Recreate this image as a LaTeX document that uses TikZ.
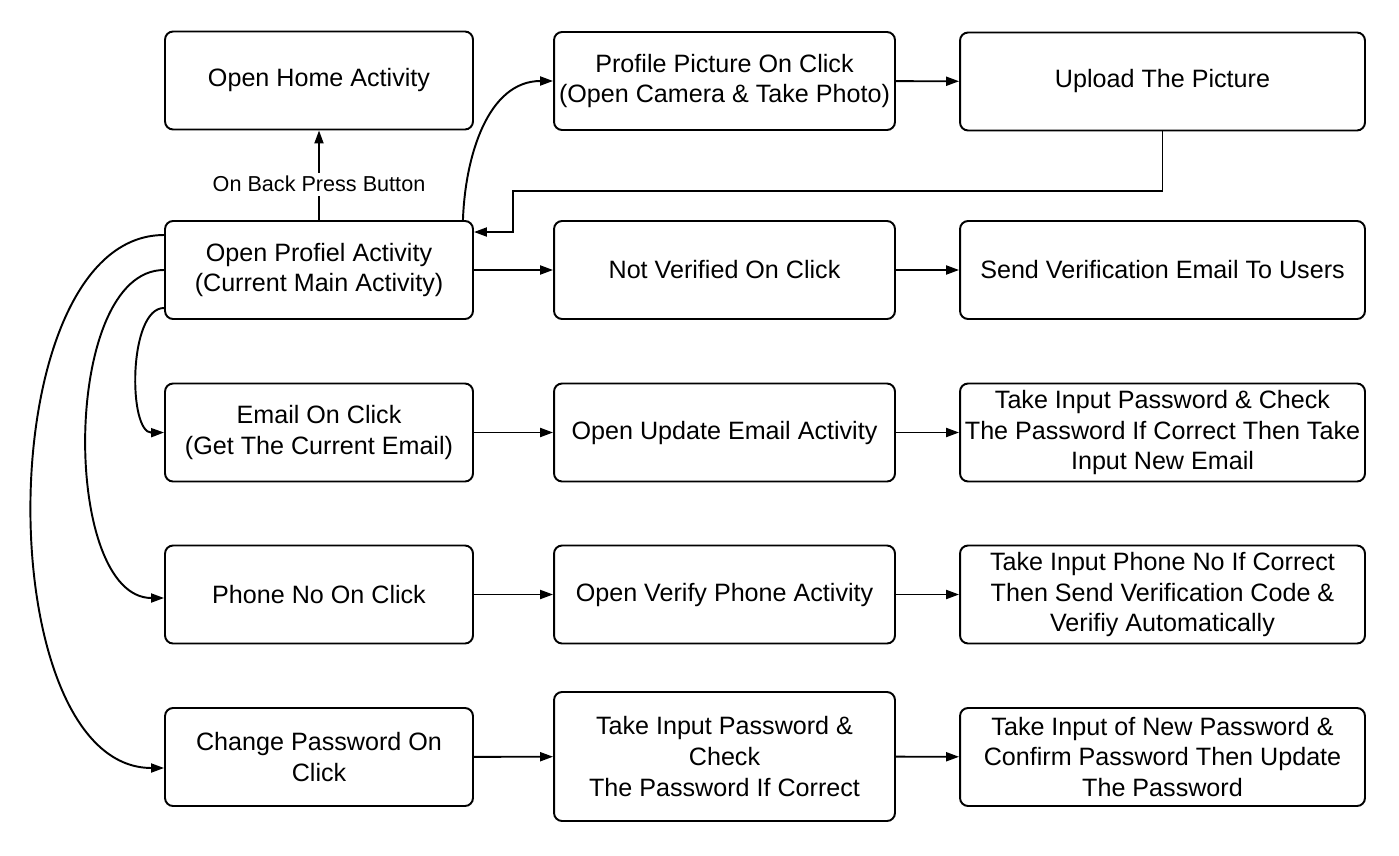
\documentclass[tikz,border=0pt]{standalone}
\usepackage{fontspec}
\setmainfont{Liberation Sans}
\usepackage{tikz}
\usetikzlibrary{arrows.meta,positioning}

\begin{document}
\begin{tikzpicture}[x=0.02cm, y=-0.02cm,
    nd/.style={draw, rounded corners=0.16cm, line width=1.1pt, align=center, minimum height=1.96cm, inner sep=1pt, font=\fontsize{14.3}{17.6}\selectfont},
    c1/.style={nd, minimum width=6.16cm},
    c2/.style={nd, minimum width=6.82cm},
    c3/.style={nd, minimum width=8.1cm},
    ed/.style={-{Triangle[length=0.26cm,width=0.18cm]}, line width=1.1pt},
    lbl/.style={font=\fontsize{12.3}{14}\selectfont, fill=white, inner sep=2pt},
  ]
  \useasboundingbox (0,0) rectangle (1399,855);
  % first column
  \node[c1] (home)  at (319,80.5)  {Open Home Activity};
  \node[c1] (prof)  at (319,270)   {Open Profiel Activity\\(Current Main Activity)};
  \node[c1] (email) at (319,432.5) {Email On Click\\(Get The Current Email)};
  \node[c1] (phone) at (319,594.5) {Phone No On Click};
  \node[c1] (chg)   at (319,757)   {Change Password On\\Click};
  % second column
  \node[c2] (pic)   at (724.5,81)  {Profile Picture On Click\\(Open Camera \& Take Photo)};
  \node[c2] (nv)    at (724.5,270) {Not Verified On Click};
  \node[c2] (upd)   at (724.5,432.5) {Open Update Email Activity};
  \node[c2] (verph) at (724.5,594.5) {Open Verify Phone Activity};
  \node[c2, minimum height=2.58cm] (pwchk) at (724.5,756.5) {Take Input Password \&\\Check\\The Password If Correct};
  % third column
  \node[c3] (up)    at (1162.5,81.5) {Upload The Picture};
  \node[c3] (send)  at (1162.5,270)  {Send Verification Email To Users};
  \node[c3] (chkml) at (1162.5,432.5) {Take Input Password \& Check\\The Password If Correct Then Take\\Input New Email};
  \node[c3] (code)  at (1162.5,594.5) {Take Input Phone No If Correct\\Then Send Verification Code \&\\Verifiy Automatically};
  \node[c3] (newpw) at (1162.5,757)  {Take Input of New Password \&\\Confirm Password Then Update\\The Password};

  \draw[ed] (prof.north) -- node[lbl, pos=0.4] {On Back Press Button} (home.south);
  \draw[ed] ([xshift=-0.22cm]prof.north east) to[out=88, in=180] (pic.west);
  \draw[ed] (pic) -- (up);
  \coordinate (bend) at (513,191);
  \draw[ed] (up.south) |- (bend) |- ([yshift=0.76cm]prof.east);

  \draw[ed] (prof) -- (nv);
  \draw[ed] (nv) -- (send);
  \draw[ed] (email) -- (upd);
  \draw[ed] (upd) -- (chkml);
  \draw[ed] (phone) -- (verph);
  \draw[ed] (verph) -- (code);
  \draw[ed] (chg) -- (pwchk);
  \draw[ed] (pwchk) -- (newpw);

  % curves on the left
  \draw[ed] ([yshift=0.7cm]prof.west) .. controls (-12,235) and (-12,768) .. ([yshift=-0.22cm]chg.west);
  \draw[ed] (prof.west) .. controls (61,270) and (61,598) .. ([yshift=-0.07cm]phone.west);
  \draw[ed] ([yshift=-0.76cm]prof.west) .. controls (128,308) and (128,433) .. (email.west);
\end{tikzpicture}
\end{document}
